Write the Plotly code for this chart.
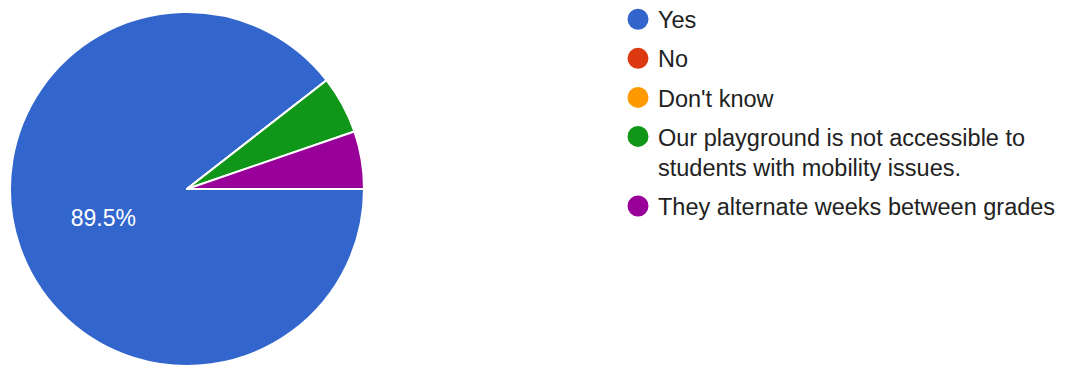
import plotly.graph_objects as go

categories = ["Yes", "No", "Don't know",
              "Our playground is not accessible to<br>students with mobility issues.",
              "They alternate weeks between grades"]
counts = [17, 0, 0, 1, 1]
colors = ["#3366cc", "#dc3912", "#ff9900", "#109618", "#990099"]
slice_labels = ["%{percent:.1%}", "", "", "", ""]

W, H = 1071, 373
FONT = "Arial, Liberation Sans, sans-serif"

fig = go.Figure()
fig.add_trace(go.Pie(
    labels=categories, values=counts, sort=False,
    direction="clockwise", rotation=90,
    marker=dict(colors=colors, line=dict(color="white", width=2)),
    texttemplate=slice_labels, textposition="inside",
    insidetextorientation="horizontal",
    textfont=dict(family=FONT, size=23, color="white"),
    showlegend=False,
    domain=dict(x=[2 / W, 356 / W], y=[1 - 358 / H, 1 - 4 / H]),
))

for i, (cat, col) in enumerate(zip(categories, colors)):
    fig.add_trace(go.Scatter(
        x=[None], y=[None], mode="markers", name=cat,
        legendgroup=f"g{i}",
        marker=dict(symbol="circle", size=16, color=col,
                    line=dict(color=col, width=5)),
    ))

fig.update_layout(
    width=W, height=H,
    margin=dict(l=0, r=0, t=0, b=0, autoexpand=False),
    paper_bgcolor="white", plot_bgcolor="white",
    xaxis=dict(visible=False), yaxis=dict(visible=False),
    legend=dict(x=610 / W, xanchor="left", y=1 - 105 / H, yanchor="middle",
                font=dict(family=FONT, size=23.5, color="#222222"),
                tracegroupgap=5.5, traceorder="grouped", valign="top",
                bgcolor="rgba(0,0,0,0)"),
)

fig.write_html("out.html")
